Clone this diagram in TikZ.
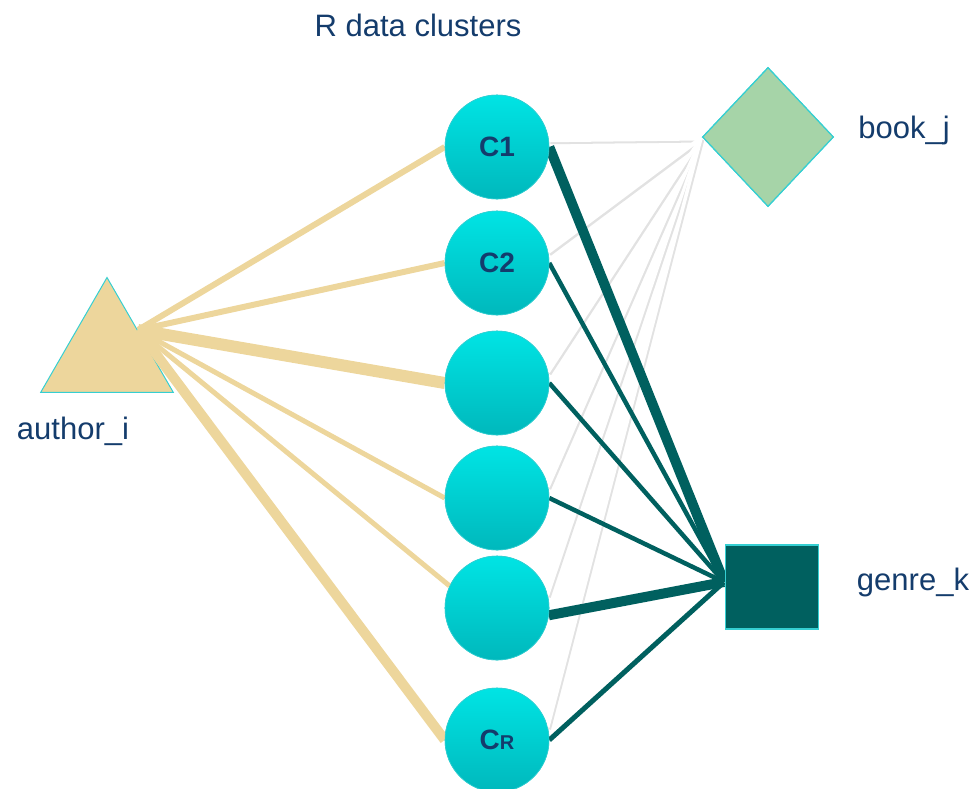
\documentclass[tikz,border=0pt]{standalone}
\usepackage{fontspec}
\setmainfont{Liberation Sans}
\usetikzlibrary{shapes.geometric}
\definecolor{navy}{HTML}{143C6C}
\definecolor{tanc}{HTML}{EDD69C}
\definecolor{tealc}{HTML}{00605F}
\definecolor{cyanedge}{HTML}{35CFD2}
\definecolor{ctop}{HTML}{00E4E4}
\definecolor{cbot}{HTML}{00B8BC}
\definecolor{greenc}{HTML}{A6D4A8}
\definecolor{shadowc}{HTML}{E2E2E2}
\tikzset{
  cluster/.style={circle, minimum size=104pt, inner sep=0pt, top color=ctop, bottom color=cbot, draw=cyanedge, line width=0.6pt, font=\fontsize{28}{28}\selectfont\bfseries, text=navy},
  bookshape/.style={diamond, minimum width=131pt, minimum height=139pt, inner sep=0pt, fill=greenc, draw=cyanedge, line width=1.2pt},
  genreshape/.style={rectangle, minimum width=93pt, minimum height=84pt, inner sep=0pt, fill=tealc, draw=cyanedge, line width=1.2pt},
  lbl/.style={font=\fontsize{31}{31}\selectfont, text=navy, inner sep=0pt},
  tanline/.style={draw=tanc},
  tealline/.style={draw=tealc},
  whiteline/.style={draw=white},
  wshadow/.style={draw=shadowc, transform canvas={shift={(1.5pt,-2pt)}}}
}
\begin{document}
\begin{tikzpicture}[x=1pt,y=-1pt]
\useasboundingbox (0,0) rectangle (979,788);
% nodes
\node[cluster] (c1) at (497,147) {C1};
\node[cluster] (c2) at (497,263) {C2};
\node[cluster] (c3) at (497,383) {};
\node[cluster] (c4) at (497,498) {};
\node[cluster] (c5) at (497,608) {};
\node[cluster] (c6) at (497,740) {C{\fontsize{20}{20}\selectfont R}};
\node[regular polygon, regular polygon sides=3, minimum size=153pt, inner sep=0pt, fill=tanc, draw=cyanedge, line width=1pt] (author) at (107,354) {};
\node[bookshape] (book) at (768,137) {};
\node[genreshape] (genre) at (772,587) {};
\coordinate (ahub) at (138,330);
\coordinate (bhub) at (701,138);
\coordinate (ghub) at (724,582);
% labels
\node[lbl] (title) at (418,25) {R data clusters};
\node[lbl] (alab) at (73,431) {author\_i};
\node[lbl] (blab) at (904,130) {book\_j};
\node[lbl] (glab) at (913,582) {genre\_k};
% white connectors to book
\foreach \c/\a/\w in {c1/8/5, c2/12/4, c3/12/3.5, c4/12/3, c5/14/3, c6/14/3.5}{
  \draw[wshadow, line width=\w pt] (\c.\a) -- (bhub);
}
\foreach \c/\a/\w in {c1/8/5, c2/12/4, c3/12/3.5, c4/12/3, c5/14/3, c6/14/3.5}{
  \draw[whiteline, line width=\w pt] (\c.\a) -- (bhub);
}
% teal connectors to genre
\draw[tealline, line width=10pt] (c1.east) -- (ghub);
\draw[tealline, line width=4.5pt] (c2.east) -- (ghub);
\draw[tealline, line width=4.5pt] (c3.east) -- (ghub);
\draw[tealline, line width=4.5pt] (c4.east) -- (ghub);
\draw[tealline, line width=10pt] (c5.-8) -- (ghub);
\draw[tealline, line width=5pt] (c6.east) -- (ghub);
% tan connectors from author
\draw[tanline, line width=6pt] (ahub) -- (c1.west);
\draw[tanline, line width=6pt] (ahub) -- (c2.west);
\draw[tanline, line width=12pt] (ahub) -- (c3.west);
\draw[tanline, line width=5pt] (ahub) -- (c4.west);
\draw[tanline, line width=5pt] (ahub) -- (c5.155);
\draw[tanline, line width=10pt] (ahub) -- (c6.west);
% redraw nodes on top of connectors
\node[cluster] at (c1) {C1};
\node[cluster] at (c2) {C2};
\node[cluster] at (c3) {};
\node[cluster] at (c4) {};
\node[cluster] at (c5) {};
\node[cluster] at (c6) {C{\fontsize{20}{20}\selectfont R}};
\node[bookshape] at (book) {};
\node[genreshape] at (genre) {};
\end{tikzpicture}
\end{document}
